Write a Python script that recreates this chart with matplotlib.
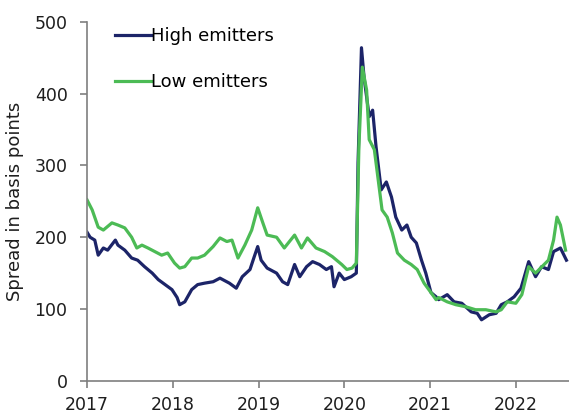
import matplotlib
matplotlib.use("Agg")
import matplotlib.pyplot as plt

# decimal years and spreads (basis points)
HIGH_DATES = [2017.00, 2017.035, 2017.09, 2017.13, 2017.19, 2017.24, 2017.33, 2017.36, 2017.44,
              2017.52, 2017.59, 2017.67, 2017.76, 2017.83, 2017.91, 2017.99, 2018.05, 2018.08,
              2018.14, 2018.22, 2018.29, 2018.37, 2018.47, 2018.55, 2018.66, 2018.74, 2018.81,
              2018.90, 2018.95, 2018.99, 2019.03, 2019.10, 2019.21, 2019.28, 2019.34, 2019.42,
              2019.48, 2019.56, 2019.63, 2019.71, 2019.79, 2019.85, 2019.88, 2019.94, 2020.00,
              2020.08, 2020.14, 2020.16, 2020.20, 2020.23, 2020.29, 2020.33, 2020.37, 2020.43,
              2020.49, 2020.55, 2020.60, 2020.67, 2020.73, 2020.78, 2020.84, 2020.90, 2020.95,
              2021.01, 2021.07, 2021.10, 2021.20, 2021.28, 2021.37, 2021.48, 2021.55, 2021.60,
              2021.69, 2021.77, 2021.83, 2021.90, 2021.98, 2022.06, 2022.15, 2022.23, 2022.30,
              2022.38, 2022.44, 2022.52, 2022.59]
HIGH_SPREAD = [207, 200, 196, 175, 185, 182, 196, 189, 182,
               171, 168, 159, 150, 141, 134, 127, 116, 106,
               110, 127, 134, 136, 138, 143, 136, 129, 145,
               155, 173, 187, 168, 157, 150, 138, 134, 162,
               145, 159, 166, 162, 155, 159, 131, 150, 141,
               145, 150, 304, 464, 423, 368, 377, 326, 266,
               277, 256, 228, 210, 217, 200, 192, 168, 150,
               123, 117, 113, 120, 110, 108, 96, 94, 85,
               92, 94, 106, 110, 117, 129, 166, 145, 159,
               155, 180, 185, 168]

LOW_DATES = [2017.00, 2017.06, 2017.13, 2017.19, 2017.29, 2017.36, 2017.44, 2017.52, 2017.58,
             2017.64, 2017.71, 2017.79, 2017.87, 2017.94, 2018.02, 2018.08, 2018.14, 2018.22,
             2018.29, 2018.37, 2018.47, 2018.55, 2018.63, 2018.69, 2018.76, 2018.84, 2018.92,
             2018.99, 2019.05, 2019.10, 2019.21, 2019.30, 2019.36, 2019.42, 2019.50, 2019.57,
             2019.67, 2019.77, 2019.86, 2019.97, 2020.03, 2020.09, 2020.14, 2020.17, 2020.21,
             2020.26, 2020.29, 2020.35, 2020.41, 2020.44, 2020.50, 2020.56, 2020.62, 2020.70,
             2020.78, 2020.85, 2020.93, 2021.01, 2021.07, 2021.10, 2021.20, 2021.30, 2021.42,
             2021.53, 2021.65, 2021.77, 2021.83, 2021.90, 2022.00, 2022.07, 2022.15, 2022.23,
             2022.33, 2022.38, 2022.44, 2022.48, 2022.52, 2022.58]
LOW_SPREAD = [252, 238, 214, 210, 220, 217, 213, 200, 185,
              189, 185, 180, 175, 178, 164, 157, 159, 171,
              171, 175, 187, 199, 194, 196, 171, 189, 210,
              241, 220, 203, 200, 185, 194, 203, 185, 199,
              185, 180, 173, 162, 155, 157, 164, 326, 437,
              405, 336, 322, 266, 238, 228, 206, 178, 168,
              162, 155, 136, 123, 113, 116, 110, 106, 103,
              99, 99, 96, 99, 110, 108, 120, 159, 150,
              162, 168, 196, 228, 217, 182]

YEAR_TICKS = [2017, 2018, 2019, 2020, 2021, 2022]
Y_TICKS = [0, 100, 200, 300, 400, 500]

NAVY = "#1c2468"
GREEN = "#4cbb55"
SPINE = "#7f7f7f"
TEXT = "#1e1e1e"

fig = plt.figure(figsize=(5.69, 4.13), dpi=100)
ax = fig.add_axes([0.153, 0.078, 0.847, 0.869])

ax.plot(HIGH_DATES, HIGH_SPREAD, color=NAVY, linewidth=2.3, label="High emitters")
ax.plot(LOW_DATES, LOW_SPREAD, color=GREEN, linewidth=2.3, label="Low emitters")

ax.set_xlim(2017, 2022.62)
ax.set_ylim(0, 500)
ax.set_xticks(YEAR_TICKS)
ax.set_xticklabels([str(y) for y in YEAR_TICKS])
ax.set_yticks(Y_TICKS)
ax.tick_params(axis="both", labelsize=12.5, labelcolor=TEXT, color=SPINE,
               length=5, width=1.2, direction="out")
ax.tick_params(axis="y", pad=9)
ax.tick_params(axis="x", pad=6)
ax.set_ylabel("Spread in basis points", fontsize=13, color=TEXT)
ax.yaxis.set_label_coords(-0.13, 0.5)

for side in ("top", "right"):
    ax.spines[side].set_visible(False)
for side in ("left", "bottom"):
    ax.spines[side].set_color(SPINE)
    ax.spines[side].set_linewidth(1.2)

ax.legend(loc="upper left", bbox_to_anchor=(0.025, 1.03), frameon=False, fontsize=13,
          handlelength=2.0, handletextpad=0.0, labelspacing=1.55)

fig.savefig("out.png", dpi=100)
